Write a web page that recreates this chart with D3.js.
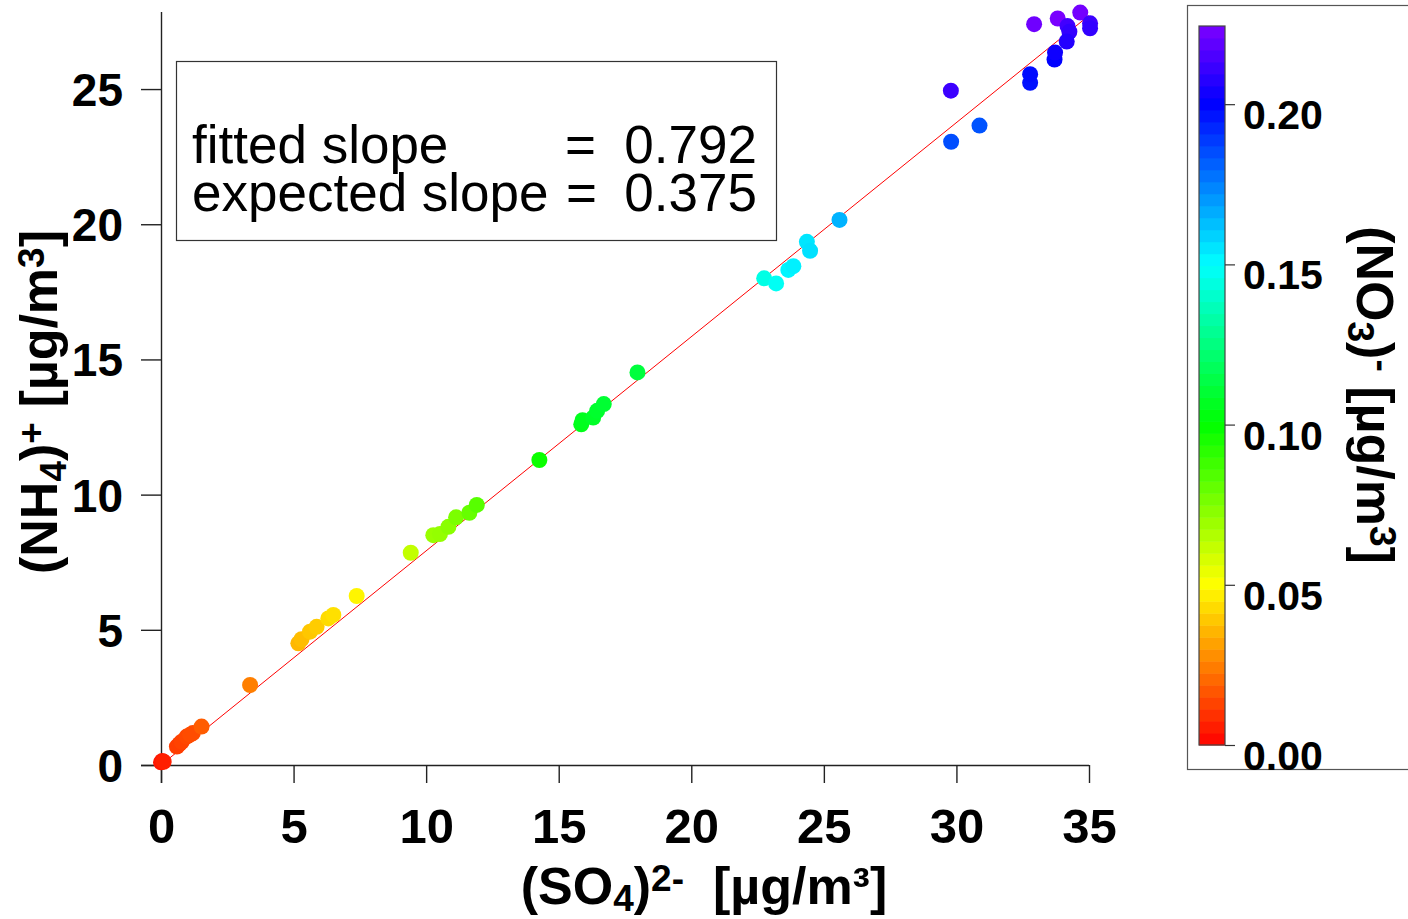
<!DOCTYPE html>
<html><head><meta charset="utf-8">
<script src="https://cdn.jsdelivr.net/npm/d3@7"></script>
<style>body{margin:0;background:#fff}svg{display:block}text{font-family:"Liberation Sans",Arial,sans-serif}</style>
</head><body>
<svg id="c" width="1408" height="919"></svg>
<script>
// ---- data ----
const so4 = [0.0,0.05,0.1,0.6,0.7,0.78,0.97,1.1,1.2,1.53,3.36,
  5.18,5.3,5.62,5.87,6.31,6.5,7.38,9.42,10.27,10.52,10.84,11.13,11.63,11.91,
  14.27,15.85,15.9,16.3,16.45,16.7,17.97,
  22.75,23.2,23.66,23.85,24.36,24.48,25.59,
  29.8,30.87,29.79,32.78,32.78,33.7,33.72,32.93,33.82,34.67,34.19,34.26,34.16,35.04,35.04];
const nh4 = [0.1,0.15,0.12,0.68,0.78,0.86,1.05,1.12,1.18,1.42,2.96,
  4.5,4.65,4.93,5.11,5.42,5.55,6.25,7.85,8.5,8.54,8.81,9.16,9.33,9.62,
  11.28,12.6,12.75,12.85,13.1,13.35,14.52,
  18.0,17.81,18.31,18.45,19.35,19.02,20.16,
  23.05,23.65,24.94,25.23,25.55,26.09,26.35,27.4,27.61,27.83,27.33,27.12,26.76,27.43,27.25];
const no3 = [0.004,0.005,0.006,0.012,0.012,0.013,0.014,0.015,0.015,0.018,0.025,
  0.036,0.037,0.039,0.040,0.043,0.044,0.048,0.062,0.070,0.071,0.073,0.076,0.080,0.083,
  0.098,0.105,0.106,0.108,0.109,0.110,0.112,
  0.145,0.148,0.152,0.153,0.155,0.156,0.165,
  0.185,0.184,0.212,0.197,0.198,0.200,0.203,0.222,0.224,0.223,0.213,0.210,0.207,0.212,0.210];
const xTicks = [0,5,10,15,20,25,30,35];
const yTicks = [0,5,10,15,20,25];
const cTicks = [0,0.05,0.10,0.15,0.20];
const fittedSlope = 0.792, expectedSlope = 0.375;
const cMax = 0.2244;

// ---- drawing ----
const svg = d3.select("#c");
const x = d3.scaleLinear().domain([0,35]).range([161,1089]);
const y = d3.scaleLinear().domain([0,27.85]).range([765,12]);
const col = v => d3.hsl(v/cMax*269, 1, 0.5).toString();
const FF = "'Liberation Sans',Arial,sans-serif";

// axes
const ax = svg.append("g").attr("transform","translate(0,765)")
  .call(d3.axisBottom(x).tickValues(xTicks).tickSize(18).tickSizeOuter(0).tickPadding(25).tickFormat(d3.format("d")));
const ay = svg.append("g").attr("transform","translate(161,0)")
  .call(d3.axisLeft(y).tickValues(yTicks).tickSize(20).tickSizeOuter(0).tickPadding(18).tickFormat(d3.format("d")));
[ax,ay].forEach(g=>{
  g.selectAll("path,line").attr("stroke","#222").attr("stroke-width",1.4);
  g.selectAll("text").attr("font-weight","bold").attr("fill","#000").style("font-family",FF);
});
ax.selectAll("text").attr("font-size",49).attr("dy","0.71em");
ay.selectAll("text").attr("font-size",46).attr("dy","0.36em");
ax.select(".domain").attr("d","M141,0.5H1089");
ay.select(".domain").attr("d","M0.5,12V783");

// fitted line
svg.append("line").attr("x1",x(0)).attr("y1",y(0)).attr("x2",x(35)).attr("y2",y(35*fittedSlope))
  .attr("stroke","#ff0000").attr("stroke-width",1);

// points
const idx = d3.range(so4.length);
svg.append("g").selectAll("circle").data(idx).join("circle")
  .attr("cx",i=>x(so4[i])).attr("cy",i=>y(nh4[i])).attr("r",8)
  .attr("fill",i=>col(no3[i]));

// text box
svg.append("rect").attr("x",176.5).attr("y",61.5).attr("width",600).attr("height",179)
  .attr("fill","none").attr("stroke","#333").attr("stroke-width",1.2);
const tb = svg.append("g").attr("font-size",53);
tb.append("text").attr("x",192).attr("y",163).text("fitted slope");
tb.append("text").attr("x",565).attr("y",163).text("=");
tb.append("text").attr("x",757).attr("y",163).attr("text-anchor","end").text(fittedSlope.toFixed(3));
tb.append("text").attr("x",192).attr("y",211).text("expected slope");
tb.append("text").attr("x",566).attr("y",211).text("=");
tb.append("text").attr("x",757).attr("y",211).attr("text-anchor","end").text(expectedSlope.toFixed(3));

// axis titles
svg.append("text").attr("x",704).attr("y",904).attr("text-anchor","middle")
  .attr("font-size",52).attr("font-weight","bold")
  .html('(SO<tspan baseline-shift="-20%" font-size="37">4</tspan>)<tspan baseline-shift="35%" font-size="37">2-</tspan>\u00a0 [µg/m³]');
svg.append("text").attr("transform","translate(57,402) rotate(-90)").attr("text-anchor","middle")
  .attr("font-size",52).attr("font-weight","bold")
  .html('(NH<tspan baseline-shift="-25%" font-size="37">4</tspan>)<tspan baseline-shift="35%" font-size="37">+</tspan> [µg/m<tspan baseline-shift="35%" font-size="37">3</tspan>]');

// legend frame
svg.append("rect").attr("x",1187.5).attr("y",5.5).attr("width",230).attr("height",764)
  .attr("fill","none").attr("stroke","#555").attr("stroke-width",1.2);

// colorbar
const cy = d3.scaleLinear().domain([0,cMax]).range([745,26]);
const nb = 60;
const bands = d3.range(nb);
svg.append("g").selectAll("rect").data(bands).join("rect")
  .attr("x",1199).attr("width",26)
  .attr("y",i=>cy((i+1)*cMax/nb)).attr("height",i=>cy(i*cMax/nb)-cy((i+1)*cMax/nb)+0.5)
  .attr("fill",i=>col((i+0.5)*cMax/nb));
svg.append("rect").attr("x",1199).attr("y",26).attr("width",26).attr("height",719)
  .attr("fill","none").attr("stroke","#444").attr("stroke-width",1.2);
const cg = svg.append("g").attr("transform","translate(1225,0)")
  .call(d3.axisRight(cy).tickValues(cTicks).tickSize(10).tickPadding(8).tickFormat(d3.format(".2f")));
cg.select(".domain").remove();
cg.selectAll("line").attr("stroke","#333").attr("stroke-width",1.2);
cg.selectAll("text").attr("font-size",41).attr("font-weight","bold").attr("fill","#000")
  .attr("dy","0.6em").style("font-family",FF);

svg.append("text").attr("transform","translate(1357,395) rotate(90)").attr("text-anchor","middle")
  .attr("font-size",52).attr("font-weight","bold")
  .html('(NO<tspan baseline-shift="-25%" font-size="37">3</tspan>)<tspan baseline-shift="35%" font-size="37">-</tspan> [µg/m<tspan baseline-shift="35%" font-size="37">3</tspan>]');
</script>
</body></html>
